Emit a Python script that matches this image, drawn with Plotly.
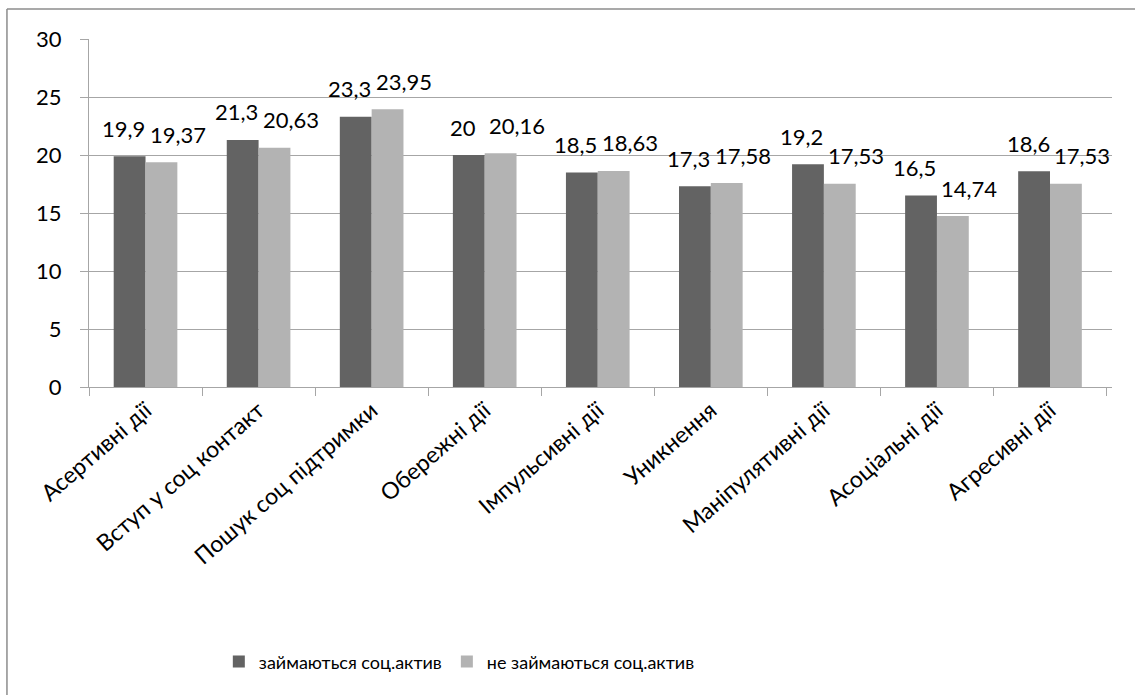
import plotly.graph_objects as go

categories = ["Асертивні дії", "Вступ у соц контакт", "Пошук соц підтримки",
              "Обережні дії", "Імпульсивні дії", "Уникнення",
              "Маніпулятивні дії", "Асоціальні дії", "Агресивні дії"]
series_names = ["займаються соц.актив", "не займаються соц.актив"]
active = [19.9, 21.3, 23.3, 20, 18.5, 17.3, 19.2, 16.5, 18.6]
not_active = [19.37, 20.63, 23.95, 20.16, 18.63, 17.58, 17.53, 14.74, 17.53]
y_ticks = [0, 5, 10, 15, 20, 25, 30]

FONT = "Lato"
DARK = "#636363"
LIGHT = "#b3b3b3"
GRID = "#a6a6a6"


def fmt(v):
    return format(v, "g").replace(".", ",")


fig = go.Figure()
fig.add_trace(go.Bar(x=categories, y=active, name=series_names[0],
                     marker=dict(color=DARK, line=dict(width=0))))
fig.add_trace(go.Bar(x=categories, y=not_active, name=series_names[1],
                     marker=dict(color=LIGHT, line=dict(width=0))))

annotations = []
for series, xs in ((active, -22), (not_active, 32)):
    for c, v in zip(categories, series):
        annotations.append(dict(x=c, y=v, xref="x", yref="y", text=fmt(v),
                                showarrow=False, xshift=xs, yshift=28,
                                font=dict(family=FONT, size=22, color="black")))

fig.update_layout(
    width=1135, height=695,
    margin=dict(l=89, r=23, t=39, b=308),
    paper_bgcolor="white", plot_bgcolor="white",
    barmode="group", bargap=0.437, bargroupgap=0,
    font=dict(family=FONT, size=22, color="black"),
    showlegend=True,
    legend=dict(orientation="h", x=0.362, xanchor="center", y=-0.79,
                yanchor="middle", font=dict(family=FONT, size=18, color="black"),
                itemsizing="constant"),
    annotations=annotations,
    shapes=[
        dict(type="line", xref="paper", yref="paper", x0=-0.0802, x1=1.2,
             y0=1.0862, y1=1.0862, line=dict(color="#8c8c8c", width=1.5)),
        dict(type="line", xref="paper", yref="paper", x0=-0.0802, x1=-0.0802,
             y0=1.0862, y1=-1.2, line=dict(color="#8c8c8c", width=1.5)),
    ],
)
fig.update_yaxes(range=[0, 30], tickvals=y_ticks, showgrid=True, gridcolor=GRID,
                 gridwidth=1, showline=True, linecolor=GRID, linewidth=1,
                 ticks="outside", ticklen=8, tickcolor=GRID, ticklabelstandoff=14,
                 tickfont=dict(family=FONT, size=22, color="black"),
                 zeroline=False)
fig.update_xaxes(tickangle=-41, showline=True, linecolor=GRID, linewidth=1,
                 ticks="outside", ticklen=8, tickcolor=GRID, tickson="boundaries",
                 tickfont=dict(family=FONT, size=23, color="black"), showgrid=False)

fig.write_html("out.html", config={"displayModeBar": False},
               post_script="document.body.style.margin='0px';")
